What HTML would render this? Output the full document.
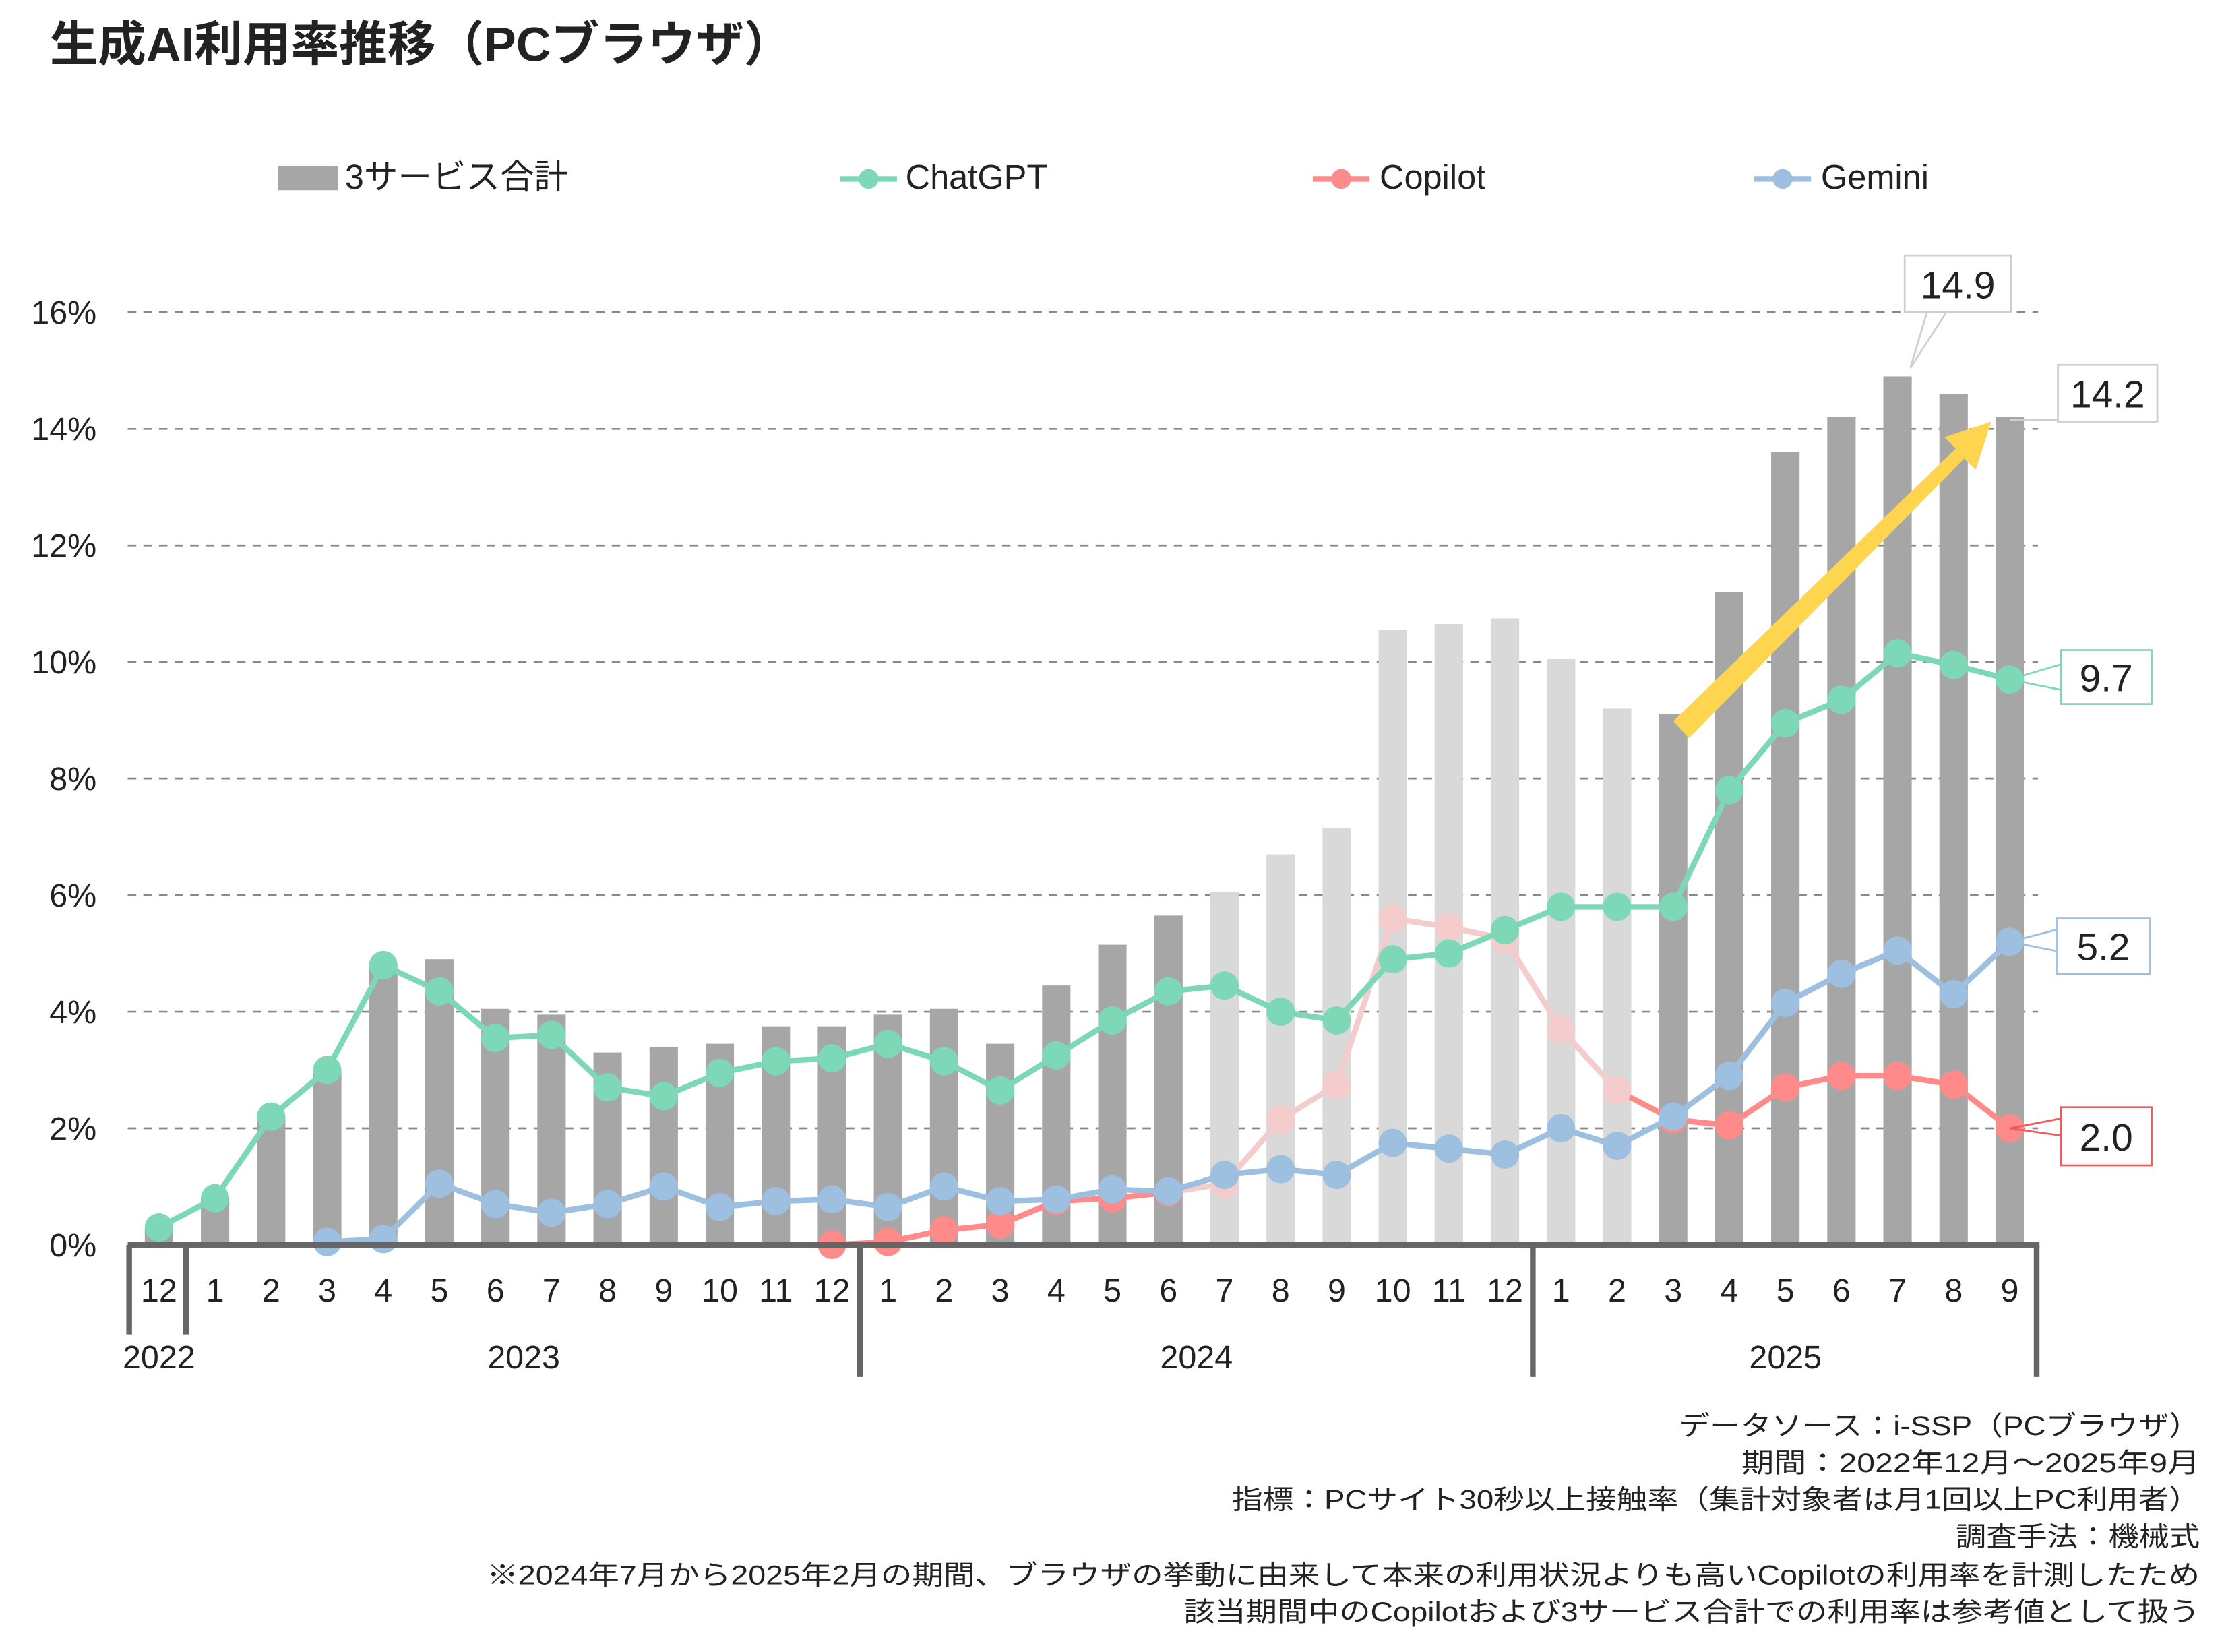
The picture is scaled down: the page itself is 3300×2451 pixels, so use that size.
<!DOCTYPE html>
<html><head><meta charset="utf-8"><style>
html,body{margin:0;padding:0;background:#fff}
svg{display:block}
text{font-family:"Liberation Sans","Noto Sans CJK JP",sans-serif}
</style></head><body>
<svg id="chart" width="3300" height="2451" viewBox="0 0 1567 1163.8" xmlns="http://www.w3.org/2000/svg">
<text x="35" y="43" font-size="34" font-weight="bold" fill="#222">生成AI利用率推移（PCブラウザ）</text>
<g>
 <g><rect x="196" y="117" width="42" height="17" fill="#a6a6a6"/><text x="243" y="133" font-size="24" fill="#222">3サービス合計</text></g>
 <g><line x1="592" y1="126" x2="632" y2="126" stroke="#7dd8b8" stroke-width="4"/><circle cx="612" cy="126" r="7" fill="#7dd8b8"/><text x="638" y="133" font-size="24" fill="#222">ChatGPT</text></g>
 <g><line x1="925" y1="126" x2="965" y2="126" stroke="#ff8a8a" stroke-width="4"/><circle cx="945" cy="126" r="7" fill="#ff8a8a"/><text x="972" y="133" font-size="24" fill="#222">Copilot</text></g>
 <g><line x1="1236" y1="126" x2="1276" y2="126" stroke="#9dbfe0" stroke-width="4"/><circle cx="1256" cy="126" r="7" fill="#9dbfe0"/><text x="1283" y="133" font-size="24" fill="#222">Gemini</text></g>
</g>
<g id="grid"></g>
<g id="bars"></g>
<g id="arrow"></g>
<g id="lines"></g>
<g id="xaxis"></g>
<g id="callouts"></g>
<g font-size="19" fill="#222" text-anchor="end">
 <text x="1550" y="1011" textLength="367" lengthAdjust="spacingAndGlyphs">データソース：i-SSP（PCブラウザ）</text>
 <text x="1550" y="1037" textLength="323" lengthAdjust="spacingAndGlyphs">期間：2022年12月～2025年9月</text>
 <text x="1550" y="1063" textLength="682" lengthAdjust="spacingAndGlyphs">指標：PCサイト30秒以上接触率（集計対象者は月1回以上PC利用者）</text>
 <text x="1550" y="1089" textLength="172" lengthAdjust="spacingAndGlyphs">調査手法：機械式</text>
 <text x="1550" y="1116" textLength="1207" lengthAdjust="spacingAndGlyphs">※2024年7月から2025年2月の期間、ブラウザの挙動に由来して本来の利用状況よりも高いCopilotの利用率を計測したため</text>
 <text x="1550" y="1142" textLength="716" lengthAdjust="spacingAndGlyphs">該当期間中のCopilotおよび3サービス合計での利用率は参考値として扱う</text>
</g>
</svg>
<script>
const months = ["12","1","2","3","4","5","6","7","8","9","10","11","12","1","2","3","4","5","6","7","8","9","10","11","12","1","2","3","4","5","6","7","8","9"];
const years = ["2022","2023","2024","2025"];
const yTicks = [0,2,4,6,8,10,12,14,16];
const totalVals = [0.3,0.8,2.2,3.0,4.8,4.9,4.05,3.95,3.3,3.4,3.45,3.75,3.75,3.95,4.05,3.45,4.45,5.15,5.65,6.05,6.7,7.15,10.55,10.65,10.75,10.05,9.2,9.1,11.2,13.6,14.2,14.9,14.6,14.2];
const chatgptVals = [0.3,0.8,2.2,3.0,4.8,4.35,3.55,3.6,2.7,2.55,2.95,3.15,3.2,3.45,3.15,2.65,3.25,3.85,4.35,4.45,4.0,3.85,4.9,5.0,5.4,5.8,5.8,5.8,7.8,8.95,9.35,10.15,9.95,9.7];
const geminiVals = [null,null,null,0.05,0.1,1.05,0.7,0.55,0.7,1.0,0.65,0.75,0.78,0.65,1.0,0.75,0.78,0.95,0.92,1.2,1.3,1.2,1.75,1.65,1.55,2.0,1.7,2.2,2.9,4.15,4.65,5.05,4.3,5.2];
const copilotVals = [null,null,null,null,null,null,null,null,null,null,null,null,0.0,0.05,0.25,0.35,0.75,0.8,0.9,1.05,2.15,2.75,5.6,5.45,5.25,3.7,2.65,2.15,2.05,2.7,2.9,2.9,2.75,2.0];
const refStart = 19, refEnd = 26; // reference period Jul 2024 - Feb 2025

const NS="http://www.w3.org/2000/svg";
const X0=112, STEP=(1416-112)/33, Y0=877, YPER=(877-220)/16;
const xs=i=>X0+i*STEP, ys=v=>Y0-v*YPER;
function mk(tag,attrs,parent){const e=document.createElementNS(NS,tag);for(const k in attrs)e.setAttribute(k,attrs[k]);parent.appendChild(e);return e;}
const grid=document.getElementById('grid');
yTicks.forEach(t=>{
  if(t>0){const l=mk('line',{x1:90,x2:1436,y1:ys(t),y2:ys(t),stroke:'#888','stroke-width':1.3,'stroke-dasharray':'6,5'},grid);
  
  }
  const tx=mk('text',{x:68,y:ys(t)+8,'font-size':23,'text-anchor':'end',fill:'#222'},grid);
  tx.textContent=t+'%';
  
  
});
const bars=document.getElementById('bars');
totalVals.forEach((v,i)=>{
  const r=mk('rect',{x:xs(i)-10,y:ys(v),width:20,height:Y0-ys(v),fill:(i>=refStart&&i<=refEnd)?'#d9d9d9':'#a6a6a6'},bars);
  
  
});
const ag=document.getElementById('arrow');
const ar=mk('polygon',{points:'1179,508 1190,520 1384,323 1392,331 1403,297 1370,308 1378,316',fill:'#ffd54f'},ag);


const lines=document.getElementById('lines');
function drawSeries(vals,color,light,name){
  for(let i=0;i<vals.length-1;i++){
    if(vals[i]==null||vals[i+1]==null)continue;
    const isLight=light&&(i+1>=refStart&&i<=refEnd-1||i+1===refStart);
    const l=mk('line',{x1:xs(i),y1:ys(vals[i]),x2:xs(i+1),y2:ys(vals[i+1]),stroke:isLight?light:color,'stroke-width':4},lines);
    
    
  }
  vals.forEach((v,i)=>{
    if(v==null)return;
    const isLight=light&&i>=refStart&&i<=refEnd;
    const c=mk('circle',{cx:xs(i),cy:ys(v),r:10,fill:isLight?light:color},lines);
    
    
  });
}
drawSeries(copilotVals,'#ff8a8a','#f4cccc','copilot');
drawSeries(chatgptVals,'#7dd8b8',null,'chatgpt');
drawSeries(geminiVals,'#9dbfe0',null,'gemini');
const xa=document.getElementById('xaxis');
const al=mk('line',{x1:90,x2:1437,y1:Y0,y2:Y0,stroke:'#666','stroke-width':4},xa);


[[91,940],[131,940],[606,970],[1080,970],[1435,970]].forEach(s=>{
  const l=mk('line',{x1:s[0],x2:s[0],y1:Y0,y2:s[1],stroke:'#666','stroke-width':4},xa);
  
  
});
months.forEach((m,i)=>{
  const t=mk('text',{x:xs(i),y:917,'font-size':23,'text-anchor':'middle',fill:'#222'},xa);
  t.textContent=m;
  
  
});
const yearX=[112,369,843,1258];
years.forEach((y,i)=>{
  const t=mk('text',{x:yearX[i],y:964,'font-size':23,'text-anchor':'middle',fill:'#222'},xa);
  t.textContent=y;
  
  
});
const cg=document.getElementById('callouts');
function callout(name,bx,by,bw,bh,label,color,pts){
  const p=mk('polyline',{points:pts,fill:'none',stroke:color,'stroke-width':1.3},cg);
  
  
  const r=mk('rect',{x:bx,y:by,width:bw,height:bh,fill:'#fff',stroke:color,'stroke-width':1.3},cg);
  
  
  const t=mk('text',{x:bx+bw/2,y:by+bh/2+10,'font-size':27,'text-anchor':'middle',fill:'#222'},cg);
  t.textContent=label;
  
  
}
callout('callout-total-peak',1342,180,75,40,totalVals[31].toFixed(1),'#cfcfcf',`1358,219 1346,${ys(totalVals[31])-6} 1372,219`);
callout('callout-total-latest',1450,257,70,40,totalVals[33].toFixed(1),'#cfcfcf',`1455,296 ${xs(33)},${ys(totalVals[33])+2} 1480,296`);
callout('callout-chatgpt',1452,458,64,38,chatgptVals[33].toFixed(1),'#7dd8b8',`1452,468 ${xs(33)},${ys(chatgptVals[33])} 1452,486`);
callout('callout-gemini',1449,647,66,39,geminiVals[33].toFixed(1),'#9dbfe0',`1449,655 ${xs(33)},${ys(geminiVals[33])} 1449,670`);
callout('callout-copilot',1452,780,64,41,copilotVals[33].toFixed(1),'#f05a5a',`1452,788 ${xs(33)},${ys(copilotVals[33])} 1452,800`);
</script>
</body></html>
